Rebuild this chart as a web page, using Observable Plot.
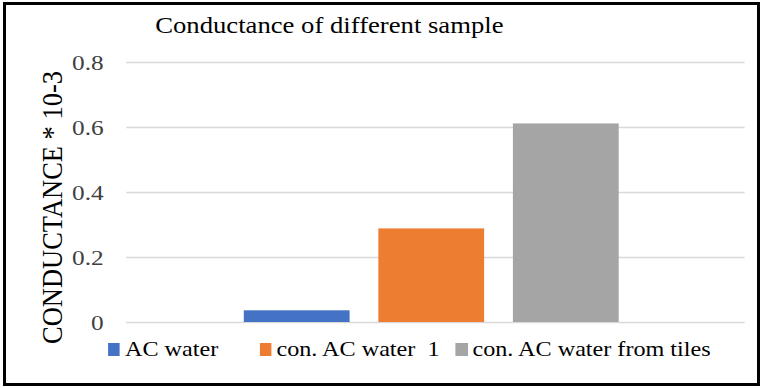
<!DOCTYPE html>
<html><head><meta charset="utf-8">
<script src="https://cdn.jsdelivr.net/npm/d3@7"></script>
<script src="https://cdn.jsdelivr.net/npm/@observablehq/plot@0.6"></script>
<style>
body{margin:0;background:#fff;font-family:'Liberation Serif',serif;}
#wrap{position:relative;width:764px;height:388px;overflow:hidden;background:#fff;}
#stage{position:absolute;left:0;top:0;width:664px;height:388px;transform:scaleX(1.15);transform-origin:0 0;font-family:'Liberation Serif',serif;}
#border{position:absolute;left:3px;top:2px;width:757px;height:384px;border:3px solid #000;box-sizing:border-box;pointer-events:none;}
#title{position:absolute;left:135px;top:14px;font-size:23.2px;line-height:1;color:#000;white-space:nowrap;font-family:'Liberation Serif',serif;}
#chart{position:absolute;left:0;top:0;}
#legend{position:absolute;left:94px;top:339px;display:flex;align-items:center;font-size:21px;line-height:1;color:#000;white-space:pre;font-family:'Liberation Serif',serif;}
.item{display:flex;align-items:center;margin-right:14px;}
.item:first-child{margin-right:36px;}
.sw{width:10.4px;height:13px;margin-right:4.3px;}
</style>
</head><body>
<div id="wrap"><div id="stage"><div id="chart"></div><div id="title"></div><div id="legend"></div></div><div id="border"></div></div>
<script>
const title = "Conductance of different sample";
const yLabel = "CONDUCTANCE * 10-3";
const series = ["AC water", "con. AC water  1", "con. AC water from tiles"];
const values = [0.036, 0.288, 0.611];
const colors = ["#4472C4", "#ED7D31", "#A5A5A5"];
const yTicks = [0, 0.2, 0.4, 0.6, 0.8];

const FONT = "'Liberation Serif', serif";
const data = series.map((name, i) => ({name, value: values[i]}));

document.getElementById("title").textContent = title;

const chart = Plot.plot({
  width: 664, height: 388,
  marginLeft: 109.6, marginRight: 16.5, marginTop: 62, marginBottom: 66,
  style: {fontFamily: FONT, fontSize: "22px", color: "#404040", background: "transparent", overflow: "visible"},
  x: {type: "band", domain: series, paddingInner: 0.215, paddingOuter: 0.9, align: 0.485, axis: null},
  y: {domain: [0, 0.8]},
  color: {domain: series, range: colors},
  marks: [
    Plot.ruleY(yTicks, {stroke: "#d9d9d9", strokeWidth: 1.5}),
    Plot.barY(data, {x: "name", y: "value", fill: "name"}),
    Plot.axisY(yTicks, {tickSize: 0, tickPadding: 20, label: null, fontSize: 22, fontFamily: FONT, fill: "#404040",
      tickFormat: d => d === 0 ? "0" : d.toFixed(1)}),
    Plot.text([yLabel], {frameAnchor: "left", textAnchor: "middle", lineAnchor: "middle", rotate: -90, dx: -64.4, dy: 15, fontSize: 26.5, fontFamily: FONT, fill: "#000"})
  ]
});
document.getElementById("chart").appendChild(chart);

const legend = d3.select("#legend");
series.forEach((s, i) => {
  const it = legend.append("div").attr("class", "item");
  it.append("div").attr("class", "sw").style("background", colors[i]);
  it.append("span").text(s);
});
</script>
</body></html>
